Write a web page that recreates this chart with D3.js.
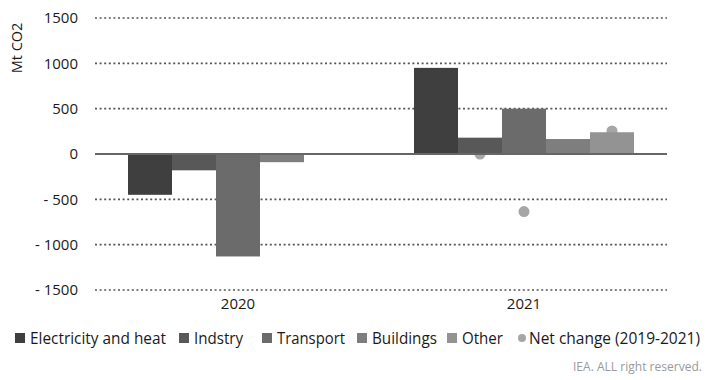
<!DOCTYPE html>
<html>
<head>
<meta charset="utf-8">
<script src="https://cdn.jsdelivr.net/npm/d3@7"></script>
<style>
  html, body { margin: 0; padding: 0; background: #fff; }
  svg { display: block; font-family: "Open Sans", "Noto Sans", sans-serif; }
</style>
</head>
<body>
<svg id="chart" width="712" height="380"></svg>
<script>
// ---- data ----
const years = ["2020", "2021"];
const sectors = ["Electricity and heat", "Indstry", "Transport", "Buildings", "Other"];
const values2020 = [-450, -180, -1130, -90, 0];
const values2021 = [950, 180, 500, 165, 240];
const netChangeSectors = ["Indstry", "Transport", "Other"];
const netChange2021 = [0, -635, 255];
const yTicks = [1500, 1000, 500, 0, -500, -1000, -1500];
const colors = ["#3f3f3f", "#585858", "#6b6b6b", "#7e7e7e", "#939393"];
const dotColor = "#a6a6a6";
const legendLabels = ["Electricity and heat", "Indstry", "Transport", "Buildings", "Other", "Net change (2019-2021)"];

const seriesByYear = { "2020": values2020, "2021": values2021 };

const svg = d3.select("#chart");
const margin = { left: 95, right: 45, top: 18, bottom: 90 };
const W = 712, H = 380;

const y = d3.scaleLinear().domain([-1500, 1500]).range([290, 18]);
const x0 = d3.scaleBand().domain(years).range([95, 667]).paddingInner(0).paddingOuter(0);
const x1 = d3.scaleBand().domain(sectors).range([0, x0.bandwidth()]).paddingInner(0).paddingOuter(0.75);

// gridlines
const grid = svg.append("g");
grid.selectAll("line").data(yTicks.filter(d => d !== 0)).join("line")
  .attr("x1", 95).attr("x2", 667)
  .attr("y1", d => y(d)).attr("y2", d => y(d))
  .attr("stroke", "#555").attr("stroke-width", 1.6)
  .attr("stroke-dasharray", "2,2.6");

// y-axis labels
const yAxis = d3.axisLeft(y).tickValues(yTicks).tickSize(0).tickPadding(0)
  .tickFormat(d => d < 0 ? "- " + Math.abs(d) : String(d));
const gy = svg.append("g").attr("transform", "translate(78,0)").call(yAxis);
gy.select(".domain").remove();
gy.selectAll("text").attr("font-size", 15).attr("fill", "#1a1a1a")
  .attr("font-family", "'Open Sans', sans-serif");

// y title
svg.append("text").attr("transform", "translate(22,48) rotate(-90)")
  .attr("text-anchor", "middle").attr("font-size", 14.5).attr("fill", "#1a1a1a")
  .text("Mt CO2");

// net change dots (behind bars)
svg.append("g").selectAll("circle")
  .data(netChangeSectors.map((s, i) => ({ s, v: netChange2021[i] })))
  .join("circle")
  .attr("cx", d => x0("2021") + x1(d.s) + x1.bandwidth() / 2)
  .attr("cy", d => y(d.v))
  .attr("r", 5.5)
  .attr("fill", dotColor);

// bars
const barData = [];
years.forEach(yr => sectors.forEach((s, i) => barData.push({ yr, s, v: seriesByYear[yr][i], c: colors[i] })));
svg.append("g").selectAll("rect").data(barData.filter(d => d.v !== 0)).join("rect")
  .attr("x", d => x0(d.yr) + x1(d.s))
  .attr("width", x1.bandwidth())
  .attr("y", d => Math.min(y(d.v), y(0)))
  .attr("height", d => Math.abs(y(d.v) - y(0)))
  .attr("fill", d => d.c);

// zero line
svg.append("line").attr("x1", 95).attr("x2", 667).attr("y1", y(0)).attr("y2", y(0))
  .attr("stroke", "#666").attr("stroke-width", 2);

// x-axis labels
const xAxis = d3.axisBottom(x0).tickSize(0).tickPadding(0);
const gx = svg.append("g").attr("transform", "translate(0,300)").call(xAxis);
gx.select(".domain").remove();
gx.selectAll("text").attr("font-size", 15).attr("fill", "#1a1a1a")
  .attr("font-family", "'Open Sans', sans-serif").attr("dy", "0.6em");

// legend
const legendX = [15, 179, 262, 357, 447, 518];
const legendTextW = [136, 49, 68, 65, 41, 171];
const lg = svg.append("g");
legendLabels.forEach((lab, i) => {
  const g = lg.append("g").attr("transform", `translate(${legendX[i]},338)`);
  if (i < 5) {
    g.append("rect").attr("x", 0).attr("y", -5).attr("width", 10).attr("height", 10).attr("fill", colors[i]);
  } else {
    g.append("circle").attr("cx", 4).attr("cy", 0).attr("r", 4).attr("fill", dotColor);
  }
  g.append("text").attr("x", i < 5 ? 15 : 11).attr("y", 0).attr("dy", "0.35em")
    .attr("font-size", 16).attr("fill", "#1a1a1a")
    .attr("textLength", legendTextW[i]).attr("lengthAdjust", "spacingAndGlyphs")
    .text(lab);
});

// source
svg.append("text").attr("x", 702).attr("y", 366).attr("dy", "0.35em")
  .attr("text-anchor", "end").attr("font-size", 13).attr("fill", "#9a9a9a")
  .attr("textLength", 129).attr("lengthAdjust", "spacingAndGlyphs")
  .text("IEA. ALL right reserved.");
</script>
</body>
</html>
